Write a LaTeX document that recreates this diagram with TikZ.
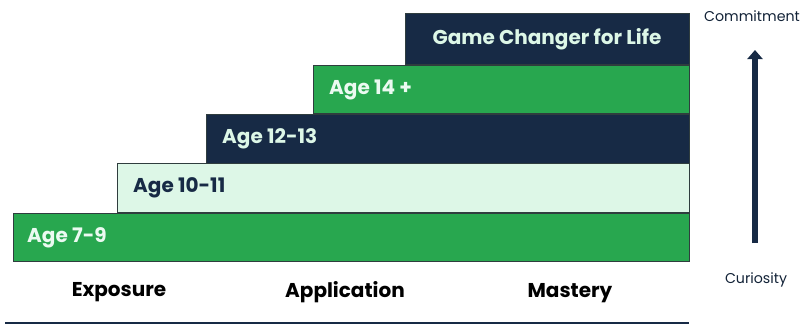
\documentclass[tikz,border=0pt]{standalone}
\usepackage{fontspec}
\setmainfont{Poppins}
\usepackage{tikz}
\usetikzlibrary{positioning,arrows.meta}

\definecolor{stepgreen}{HTML}{28A74F}
\definecolor{stepnavy}{HTML}{172A45}
\definecolor{stepmint}{HTML}{DDF7E7}
\definecolor{stepedge}{HTML}{2F3D3E}

\tikzset{
  bar/.style={draw=stepedge, line width=0.8pt},
  agelabel/.style={anchor=west, font=\bfseries\fontsize{20}{22}\selectfont, inner sep=0pt},
  stagelabel/.style={font=\bfseries\fontsize{20}{22}\selectfont, text=black},
  sidelabel/.style={font=\fontsize{14.2}{16}\selectfont, text=stepnavy!80!black}
}

\begin{document}
\begin{tikzpicture}[x=1pt,y=-1pt]
    \useasboundingbox (0,0) rectangle (806,325);

    % Steps
    \draw[bar, fill=stepgreen] (13, 213) rectangle (689, 261);
    \draw[bar, fill=stepmint] (117, 163) rectangle (689, 212);
    \draw[bar, fill=stepnavy] (206, 114) rectangle (689, 163);
    \draw[bar, fill=stepgreen] (313, 65) rectangle (689, 113);
    \draw[bar, fill=stepnavy] (405, 13) rectangle (689, 64);

    % Step labels
    \node[agelabel, text=stepmint!60!white] (age79) at (27, 237.5) {Age 7-9};
    \node[agelabel, text=stepnavy] (age1011) at (133, 188) {Age 10-11};
    \node[agelabel, text=stepmint] (age1213) at (222, 139) {Age 12-13};
    \node[agelabel, text=stepmint!60!white] (age14) at (329, 89.5) {Age 14 +};
    \node[font=\bfseries\fontsize{20}{22}\selectfont, text=stepmint] (life) at (547, 39) {Game Changer for Life};

    % Stages
    \node[stagelabel] (exposure) at (119, 292.5) {Exposure};
    \node[stagelabel] (application) at (345, 292.5) {Application};
    \node[stagelabel] (mastery) at (570, 293) {Mastery};
    \draw[stepnavy, line width=2pt] (5, 323) -- (689, 323);

    % Curiosity to commitment arrow
    \node[sidelabel] (commitment) at (752, 16) {Commitment};
    \node[sidelabel] (curiosity) at (756, 280) {Curiosity};
    \coordinate (arrowlow) at (755, 243);
    \coordinate (arrowhigh) at (755, 50);
    \draw[-{Triangle[length=9pt,width=15pt]}, stepnavy, line width=6.5pt] (arrowlow) -- (arrowhigh);
  \end{tikzpicture}
\end{document}
